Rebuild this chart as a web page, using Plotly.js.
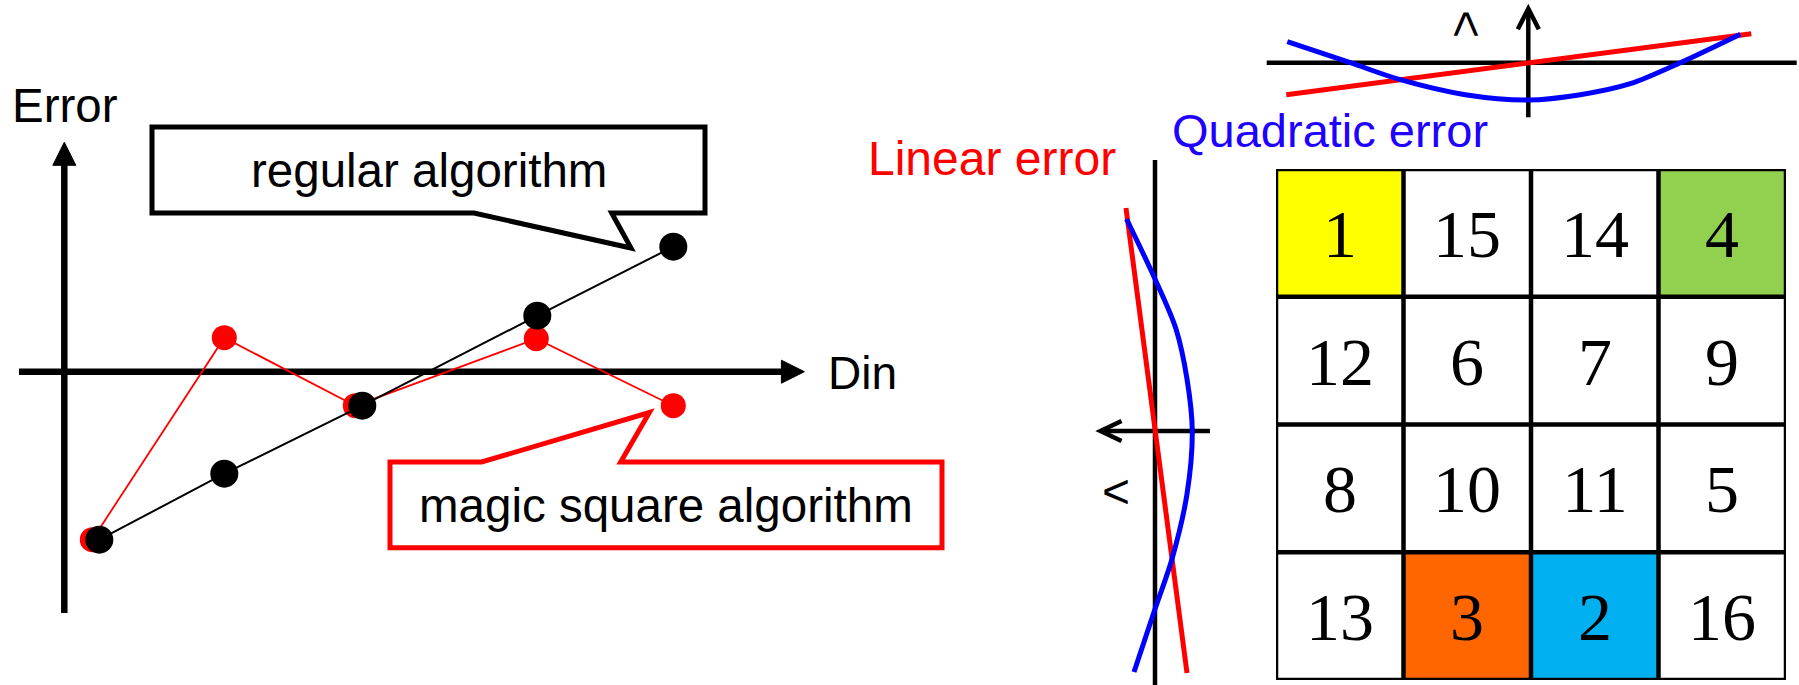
<!DOCTYPE html>
<html>
<head>
<meta charset="utf-8">
<script src="https://cdn.plot.ly/plotly-3.0.1.min.js"></script>
<style>html,body{margin:0;padding:0;background:#fff;}#chart{width:1799px;height:685px;}</style>
</head>
<body>
<div id="chart"></div>
<script>
// ---------- data ----------
// Left chart: error vs Din (1 unit = 100 px of the original)
const DIN_REGULAR = [0.35, 1.60, 2.98, 4.73, 6.09];
const ERR_REGULAR = [-1.68, -1.02, -0.34, 0.56, 1.25];
const DIN_MAGIC   = [0.28, 1.60, 2.91, 4.72, 6.09];
const ERR_MAGIC   = [-1.68, 0.34, -0.34, 0.33, -0.34];

// Small error-shape sketches (shared by the horizontal and the rotated copy)
const DIN_QUAD = [-2.41, -1.78, -1.28, -0.63, 0, 0.52, 1.02, 1.52, 2.12];
const ERR_QUAD = [0.21, 0, -0.17, -0.32, -0.373, -0.32, -0.21, 0, 0.285];
const DIN_LIN  = [-2.42, 2.23];
const ERR_LIN  = [-0.32, 0.29];

// Magic square
const SQUARE_COLS = [0, 1, 2, 3];
const SQUARE_ROWS = [0, 1, 2, 3];
const SQUARE = [
  [1, 15, 14, 4],
  [12, 6, 7, 9],
  [8, 10, 11, 5],
  [13, 3, 2, 16]
];

// ---------- layout helpers ----------
const W = 1799, H = 685;
const PX = p => p / W;
const PY = p => 1 - p / H;
// left chart origin (pixels) and scale
const OX = 64.3, OY = 371.7, S = 100;
const LX = p => (p - OX) / S;
const LY = p => (OY - p) / S;
// top sketch origin
const TX0 = 1528.3, TY0 = 62.7;
// rotated sketch origin
const RX0 = 1155, RY0 = 431;

function pathL(pts) {
  return 'M' + pts.map(p => LX(p[0]).toFixed(4) + ',' + LY(p[1]).toFixed(4)).join(' L') + ' Z';
}

const FONT = 'Liberation Sans, Arial, sans-serif';

const traces = [
  // left chart
  {x: DIN_MAGIC, y: ERR_MAGIC, xaxis: 'x', yaxis: 'y', type: 'scatter', mode: 'lines+markers',
   line: {color: '#FF0000', width: 1.8}, marker: {color: '#FF0000', size: 25}, hoverinfo: 'skip'},
  {x: DIN_REGULAR, y: ERR_REGULAR, xaxis: 'x', yaxis: 'y', type: 'scatter', mode: 'lines+markers',
   line: {color: '#000000', width: 2}, marker: {color: '#000000', size: 28}, hoverinfo: 'skip'},
  // top sketch
  {x: DIN_LIN, y: ERR_LIN, xaxis: 'x2', yaxis: 'y2', type: 'scatter', mode: 'lines',
   line: {color: '#FF0000', width: 5}, hoverinfo: 'skip'},
  {x: DIN_QUAD, y: ERR_QUAD, xaxis: 'x2', yaxis: 'y2', type: 'scatter', mode: 'lines',
   line: {color: '#0000FF', width: 5, shape: 'spline', smoothing: 0.9}, hoverinfo: 'skip'},
  // rotated sketch (error to the left, Din upward)
  {x: ERR_LIN, y: DIN_LIN, xaxis: 'x3', yaxis: 'y3', type: 'scatter', mode: 'lines',
   line: {color: '#FF0000', width: 5}, hoverinfo: 'skip'},
  {x: ERR_QUAD, y: DIN_QUAD, xaxis: 'x3', yaxis: 'y3', type: 'scatter', mode: 'lines',
   line: {color: '#0000FF', width: 5, shape: 'spline', smoothing: 0.9}, hoverinfo: 'skip'},
  // magic square
  {z: SQUARE, x: SQUARE_COLS, y: SQUARE_ROWS, xaxis: 'x4', yaxis: 'y4', type: 'heatmap',
   zmin: 1, zmax: 16, showscale: false, hoverinfo: 'skip',
   colorscale: [
     [0, '#FFFF00'], [0.5/15, '#FFFF00'],
     [0.5/15, '#00B0F0'], [1.5/15, '#00B0F0'],
     [1.5/15, '#FF6600'], [2.5/15, '#FF6600'],
     [2.5/15, '#92D050'], [3.5/15, '#92D050'],
     [3.5/15, '#FFFFFF'], [1, '#FFFFFF']
   ],
   texttemplate: '%{z}',
   textfont: {family: 'Liberation Serif, Times New Roman, serif', size: 68, color: '#000000'}}
];

const shapes = [];
// left chart axes
shapes.push({type: 'line', xref: 'x', yref: 'y', x0: LX(19), y0: 0, x1: LX(784), y1: 0,
             line: {color: '#000', width: 6.5}, layer: 'below'});
shapes.push({type: 'path', xref: 'x', yref: 'y', layer: 'below',
             path: `M${LX(781.4)},${LY(360.2)} L${LX(804.4)},0 L${LX(781.4)},${LY(383.2)} Z`,
             fillcolor: '#000', line: {color: '#000', width: 1}});
shapes.push({type: 'line', xref: 'x', yref: 'y', x0: 0, y0: LY(613), x1: 0, y1: LY(163),
             line: {color: '#000', width: 6.5}, layer: 'below'});
shapes.push({type: 'path', xref: 'x', yref: 'y', layer: 'below',
             path: `M${LX(52.8)},${LY(165.3)} L0,${LY(142.3)} L${LX(75.8)},${LY(165.3)} Z`,
             fillcolor: '#000', line: {color: '#000', width: 1}});
// callouts
shapes.push({type: 'path', xref: 'x', yref: 'y', layer: 'below', fillcolor: '#FFFFFF',
             line: {color: '#000000', width: 5},
             path: pathL([[152,127],[705,127],[705,213],[611.7,213],[631,248],[474,213],[152,213]])});
shapes.push({type: 'path', xref: 'x', yref: 'y', layer: 'below', fillcolor: '#FFFFFF',
             line: {color: '#FF0000', width: 5},
             path: pathL([[390,462],[481.7,462],[649.4,412.5],[620.7,462],[942,462],[942,547.7],[390,547.7]])});
// top sketch axes
shapes.push({type: 'line', xref: 'x2', yref: 'y2', x0: -2.616, y0: 0, x1: 2.684, y1: 0,
             line: {color: '#000', width: 4.5}, layer: 'below'});
shapes.push({type: 'line', xref: 'x2', yref: 'y2', x0: 0, y0: -0.546, x1: 0, y1: 0.54,
             line: {color: '#000', width: 4.5}, layer: 'below'});
shapes.push({type: 'path', xref: 'x2', yref: 'y2', layer: 'below',
             path: 'M-0.105,0.335 L0,0.54 L0.105,0.335', line: {color: '#000', width: 4.5}});
// rotated sketch axes
shapes.push({type: 'line', xref: 'x3', yref: 'y3', x0: 0, y0: 2.71, x1: 0, y1: -2.7,
             line: {color: '#000', width: 4.5}, layer: 'below'});
shapes.push({type: 'line', xref: 'x3', yref: 'y3', x0: -0.55, y0: 0, x1: 0.545, y1: 0,
             line: {color: '#000', width: 4.5}, layer: 'below'});
shapes.push({type: 'path', xref: 'x3', yref: 'y3', layer: 'below',
             path: 'M0.335,0.1 L0.545,0 L0.335,-0.1', line: {color: '#000', width: 4.5}});
// magic square grid lines
[-0.5, 0.5, 1.5, 2.5, 3.5].forEach(v => {
  shapes.push({type: 'line', xref: 'x4', yref: 'y4', x0: v, x1: v, y0: -0.5, y1: 3.5,
               line: {color: '#000', width: 4.5}, layer: 'above'});
  shapes.push({type: 'line', xref: 'x4', yref: 'y4', y0: v, y1: v, x0: -0.5, x1: 3.5,
               line: {color: '#000', width: 4.5}, layer: 'above'});
});

const ann = (text, x, y, size, color, extra) => Object.assign({
  text: text, x: PX(x), y: PY(y), xref: 'paper', yref: 'paper', showarrow: false,
  xanchor: 'center', yanchor: 'middle', font: {family: FONT, size: size, color: color}
}, extra || {});

const annotations = [
  ann('Error', 65, 105, 47.5, '#000'),
  ann('Din', 862, 373, 46, '#000'),
  ann('regular algorithm', 428.5, 171, 47.5, '#000'),
  ann('magic square algorithm', 666, 505, 47.5, '#000'),
  ann('Linear error', 992, 158.5, 48, '#FF0000'),
  ann('Quadratic error', 1329.5, 130.4, 47, '#2000FF'),
  {text: '<', x: -0.62, y: 0.385, xref: 'x2', yref: 'y2', showarrow: false, textangle: 90,
   font: {family: FONT, size: 48, color: '#000'}},
  {text: '<', x: 0.39, y: -0.6, xref: 'x3', yref: 'y3', showarrow: false,
   font: {family: FONT, size: 48, color: '#000'}}
];

const hidden = {visible: false, showgrid: false, zeroline: false, fixedrange: true, autorange: false};

const layout = {
  width: W, height: H,
  margin: {l: 0, r: 0, t: 0, b: 0, pad: 0},
  paper_bgcolor: '#FFFFFF', plot_bgcolor: 'rgba(0,0,0,0)',
  showlegend: false,
  xaxis:  Object.assign({}, hidden, {domain: [0, 1], range: [LX(0), LX(W)], anchor: 'y'}),
  yaxis:  Object.assign({}, hidden, {domain: [0, 1], range: [LY(H), LY(0)], anchor: 'x'}),
  xaxis2: Object.assign({}, hidden, {domain: [0, 1], range: [(0 - TX0) / S, (W - TX0) / S], anchor: 'y2'}),
  yaxis2: Object.assign({}, hidden, {domain: [0, 1], range: [(TY0 - H) / S, TY0 / S], anchor: 'x2'}),
  xaxis3: Object.assign({}, hidden, {domain: [0, 1], range: [RX0 / S, (RX0 - W) / S], anchor: 'y3'}),
  yaxis3: Object.assign({}, hidden, {domain: [0, 1], range: [(RY0 - H) / S, RY0 / S], anchor: 'x3'}),
  xaxis4: Object.assign({}, hidden, {domain: [PX(1276), PX(1786)], range: [-0.5, 3.5], anchor: 'y4'}),
  yaxis4: Object.assign({}, hidden, {domain: [PY(680), PY(169)], range: [3.5, -0.5], anchor: 'x4'}),
  shapes: shapes,
  annotations: annotations
};

Plotly.newPlot('chart', traces, layout, {staticPlot: true, displayModeBar: false});
</script>
</body>
</html>
